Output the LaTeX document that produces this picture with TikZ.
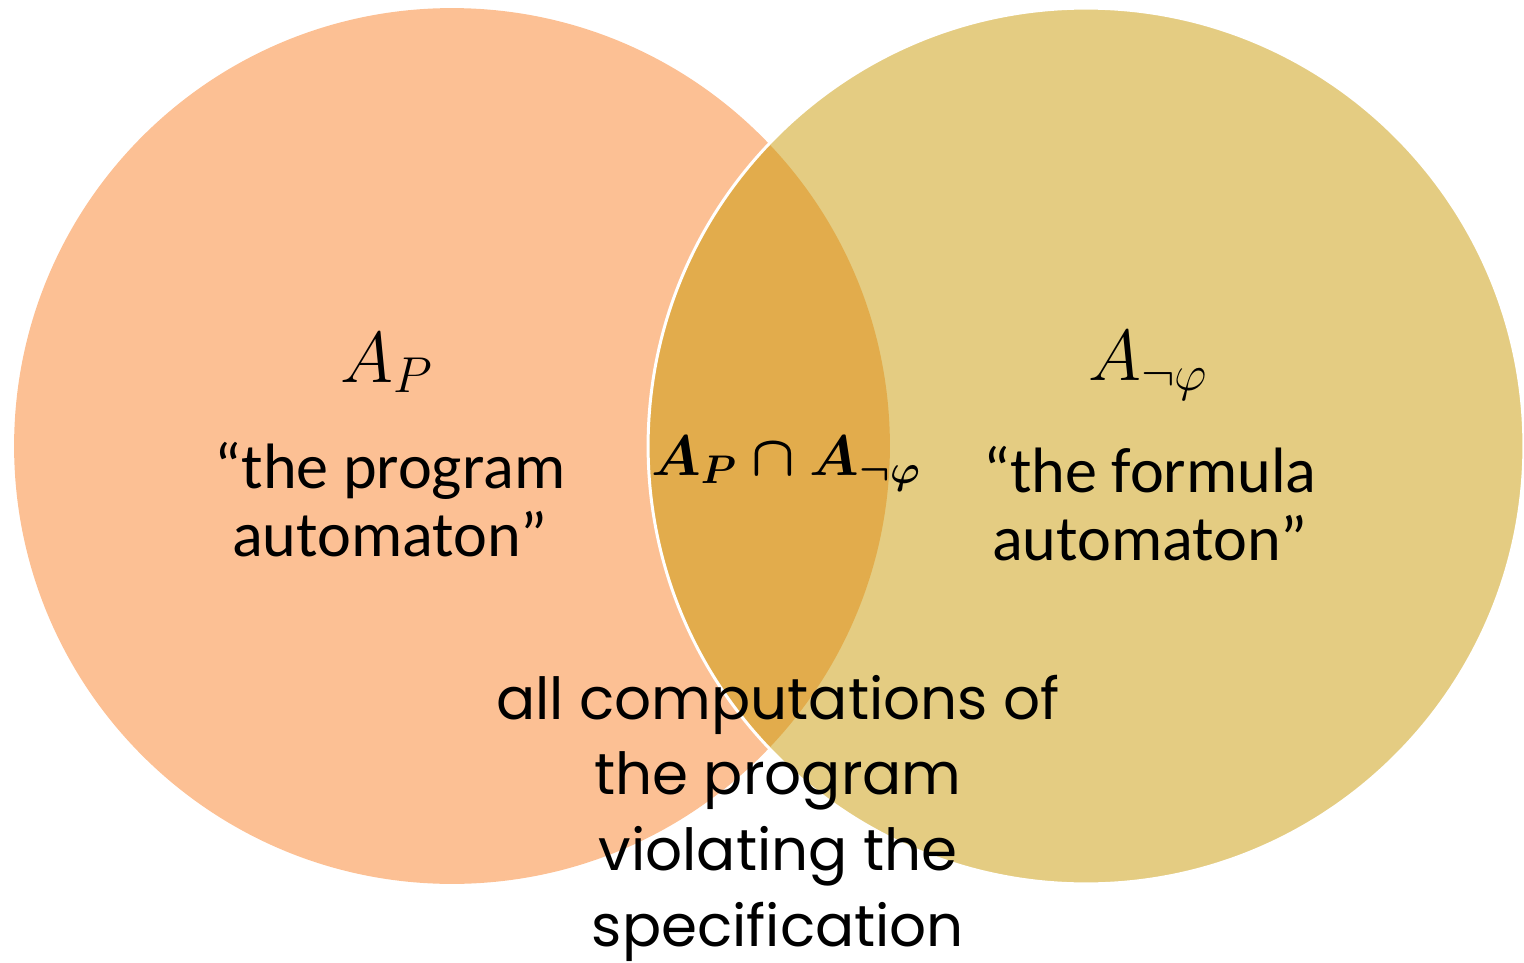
\RequirePackage{fix-cm}
\documentclass[tikz,border=0pt]{standalone}
\usepackage{fontspec}
\newfontfamily\calibri{Carlito}
\newfontfamily\comic{Poppins}
\usepackage{tikz}
\usetikzlibrary{positioning}

\definecolor{progcol}{RGB}{249,129,41}
\definecolor{formcol}{RGB}{201,153,5}

\begin{document}
\begin{tikzpicture}[
    x=0.02cm, y=-0.02cm,
    autset/.style={
        fill opacity=0.5,
        draw opacity=1,
        line width=1.7pt
    },
    autname/.style={
        anchor=base,
        font=\fontsize{41}{48}\selectfont
    },
    autquote/.style={
        anchor=base,
        align=center,
        font=\calibri\fontsize{36.5}{38.5}\selectfont
    },
    autmeet/.style={
        anchor=base,
        font=\fontsize{32.5}{40}\selectfont\boldmath
    },
    autremark/.style={
        anchor=base,
        align=center,
        font=\comic\fontsize{33}{43}\selectfont
    }
]

\useasboundingbox (0,0) rectangle (1524,963);

\fill[autset, progcol] (452,446) circle[radius=8.76cm];
\filldraw[autset, fill=formcol, draw=white] (1086,446) circle[radius=8.76cm];

\node[autname] (progname) at (387,382) {$A_P$};
\node[autquote] (progtext) at (390,556)
    {“the program\\automaton”};

\node[autname] (formname) at (1148,380) {$A_{\neg\varphi}$};
\node[autquote] (formtext) at (1150,560)
    {“the formula\\automaton”};

\node[autmeet] (both) at (786,475) {$A_P \cap A_{\neg\varphi}$};

\node[autremark] (violations) at (778,946)
    {all computations of\\the program\\violating the\\specification};

\end{tikzpicture}
\end{document}
